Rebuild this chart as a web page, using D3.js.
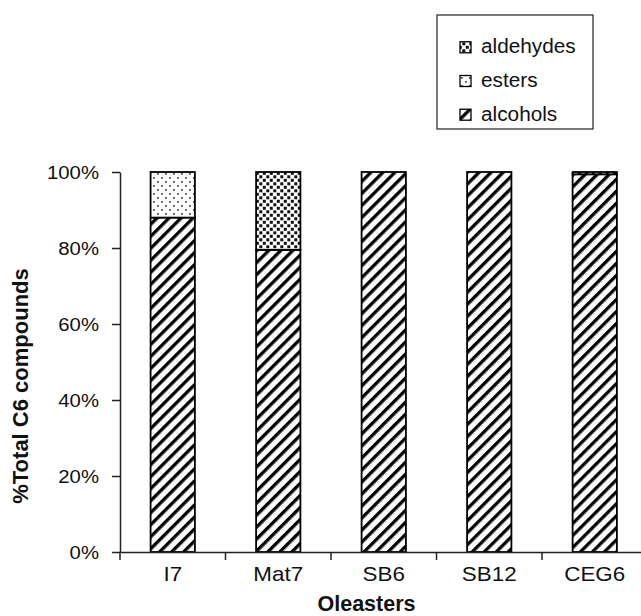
<!DOCTYPE html>
<html><head><meta charset="utf-8">
<script src="https://cdn.jsdelivr.net/npm/d3@7"></script>
<style>body{margin:0;background:#fff}svg{display:block;font-family:"Liberation Sans",Arial,sans-serif}</style>
</head><body>
<svg id="c" width="641" height="616"></svg>
<script>
const categories = ["I7","Mat7","SB6","SB12","CEG6"];
const alcohols  = [88, 79.5, 100, 100, 99.4];
const esters    = [12, 0, 0, 0, 0];
const aldehydes = [0, 20.5, 0, 0, 0.6];
const yTicks = [0,20,40,60,80,100];
const seriesNames = ["alcohols","esters","aldehydes"];
const legendOrder = ["aldehydes","esters","alcohols"];

const svg = d3.select("#c");
const defs = svg.append("defs");
// stripes
const pStripe = defs.append("pattern").attr("id","p-alcohols").attr("patternUnits","userSpaceOnUse")
  .attr("width",8.5).attr("height",8.5).attr("patternTransform","rotate(45)");
pStripe.append("rect").attr("width",8.5).attr("height",8.5).attr("fill","#fff");
pStripe.append("rect").attr("x",0).attr("y",0).attr("width",3.3).attr("height",8.5).attr("fill","#000");
// esters: sparse grey dots
const pEst = defs.append("pattern").attr("id","p-esters").attr("patternUnits","userSpaceOnUse")
  .attr("width",8).attr("height",8);
pEst.append("rect").attr("width",8).attr("height",8).attr("fill","#fff");
pEst.append("rect").attr("x",1).attr("y",1).attr("width",1.8).attr("height",1.8).attr("fill","#555");
pEst.append("rect").attr("x",5).attr("y",5).attr("width",1.8).attr("height",1.8).attr("fill","#555");
// aldehydes: dense black dots
const pAld = defs.append("pattern").attr("id","p-aldehydes").attr("patternUnits","userSpaceOnUse")
  .attr("width",7).attr("height",7);
pAld.append("rect").attr("width",7).attr("height",7).attr("fill","#fff");
pAld.append("rect").attr("x",0.3).attr("y",0.3).attr("width",3).attr("height",3).attr("fill","#111");
pAld.append("rect").attr("x",3.8).attr("y",3.8).attr("width",3).attr("height",3).attr("fill","#111");

const x = d3.scaleBand().domain(categories).range([120, 647.5]).paddingInner(0.58).paddingOuter(0.29);
const y = d3.scaleLinear().domain([0,100]).range([552, 172]);

const data = categories.map((c,i)=>({cat:c, alcohols:alcohols[i], esters:esters[i], aldehydes:aldehydes[i]}));
const stack = d3.stack().keys(seriesNames)(data);

const g = svg.append("g");
stack.forEach(layer=>{
  g.selectAll(null).data(layer.filter(d=>d[1]-d[0]>0)).enter().append("rect")
    .attr("x",d=>x(d.data.cat)).attr("width",x.bandwidth())
    .attr("y",d=>y(d[1])).attr("height",d=>y(d[0])-y(d[1]))
    .attr("fill",`url(#p-${layer.key})`).attr("stroke","#000").attr("stroke-width",1.8);
});

// y axis
const ya = svg.append("g").attr("transform","translate(120,0)")
  .call(d3.axisLeft(y).tickValues(yTicks).tickFormat(d=>d+"%").tickSize(8).tickSizeOuter(0));
ya.select(".domain").attr("stroke","#222").attr("stroke-width",1.5);
ya.selectAll(".tick line").attr("stroke","#222").attr("stroke-width",1.5);
ya.selectAll("text").attr("font-size",18.5).attr("fill","#111")
  .attr("transform","scale(1.1,1)").attr("x",-21/1.1).attr("dy","0.36em");

// x axis
const xa = svg.append("g").attr("transform","translate(0,552)")
  .call(d3.axisBottom(x).tickSize(0).tickSizeOuter(0));
xa.select(".domain").attr("stroke","#222").attr("stroke-width",1.5);
xa.selectAll("text").attr("font-size",20).attr("fill","#111")
  .attr("transform","scale(1.12,1)").attr("y",29).attr("dy",0);
// boundary ticks
const bounds = categories.map(c=>x(c)-x.step()*x.paddingInner()/2 - (c===categories[0]? x.step()*(x.paddingOuter()-x.paddingInner()/2):0));
xa.selectAll(".bt").data(bounds).enter().append("line").attr("class","bt")
  .attr("x1",d=>d).attr("x2",d=>d).attr("y1",0).attr("y2",8).attr("stroke","#222").attr("stroke-width",1.5);

// axis titles
svg.append("text").attr("transform","translate(27.5,386) rotate(-90)").attr("text-anchor","middle")
  .attr("font-size",22).attr("font-weight","bold").attr("fill","#111").text("%Total C6 compounds");
svg.append("text").attr("x",366.5).attr("y",611).attr("text-anchor","middle")
  .attr("font-size",21.5).attr("font-weight","bold").attr("fill","#111").text("Oleasters");

// legend
const lg = svg.append("g");
lg.append("rect").attr("x",437).attr("y",15).attr("width",156).attr("height",114)
  .attr("fill","#fff").attr("stroke","#222").attr("stroke-width",1.2);
legendOrder.forEach((k,i)=>{
  const base = 53.3 + i*33.7;
  lg.append("rect").attr("x",460).attr("y",base-11.5).attr("width",11).attr("height",11)
    .attr("fill",`url(#p-${k})`).attr("stroke","#000").attr("stroke-width",1.3);
  lg.append("text").attr("transform",`translate(481,${base}) scale(1.04,1)`)
    .attr("font-size",20).attr("fill","#111").text(k);
});
</script>
</body></html>
